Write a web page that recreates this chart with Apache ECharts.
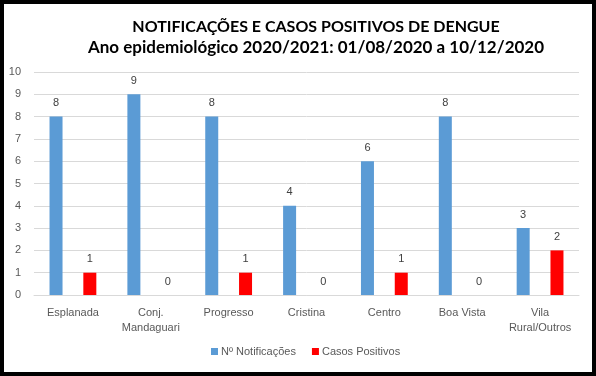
<!DOCTYPE html>
<html>
<head>
<meta charset="utf-8">
<script src="https://cdn.jsdelivr.net/npm/echarts@6/dist/echarts.min.js"></script>
<style>
  html, body { margin: 0; padding: 0; background: #fff; }
  #chart { width: 596px; height: 376px; }
  #frame { position: absolute; left: 0; top: 0; width: 596px; height: 376px; box-sizing: border-box; border: 4px solid #000; pointer-events: none; }
</style>
</head>
<body>
<div id="chart"></div>
<div id="frame"></div>
<script>
const bairros = ["Esplanada", "Conj.\nMandaguari", "Progresso", "Cristina", "Centro", "Boa Vista", "Vila\nRural/Outros"];
const notificacoes = [8, 9, 8, 4, 6, 8, 3];
const positivos = [1, 0, 1, 0, 1, 0, 2];

const chart = echarts.init(document.getElementById("chart"));
const labelStyle = { show: true, position: "top", distance: 8, color: "#404040", fontSize: 11, fontFamily: "Liberation Sans" };

chart.setOption({
  animation: false,
  textStyle: { fontFamily: "Liberation Sans" },
  title: {
    text: "{a|NOTIFICAÇÕES E CASOS POSITIVOS DE DENGUE}\n{b|Ano epidemiológico 2020/2021: 01/08/2020 a 10/12/2020}",
    left: 311,
    top: 11,
    textAlign: "center",
    textStyle: {
      align: "center",
      rich: {
        a: { fontFamily: "Lato", fontWeight: "bold", fontSize: 16, lineHeight: 21, color: "#000" },
        b: { fontFamily: "Lato", fontWeight: "bold", fontSize: 17, lineHeight: 21, color: "#000" }
      }
    }
  },
  legend: {
    bottom: 14,
    left: 206,
    itemWidth: 7,
    itemHeight: 7,
    itemGap: 16,
    icon: "rect",
    textStyle: { color: "#595959", fontSize: 11, fontFamily: "Liberation Sans", padding: [0, 0, 0, -2] },
    data: ["Nº Notificações", "Casos Positivos"]
  },
  grid: { left: 34, right: 17, top: 72, bottom: 81, containLabel: false },
  xAxis: {
    type: "category",
    data: bairros,
    axisLine: { lineStyle: { color: "#d9d9d9" } },
    axisTick: { show: false },
    axisLabel: { color: "#595959", fontSize: 11, margin: 10, lineHeight: 15, interval: 0 }
  },
  yAxis: {
    type: "value",
    min: 0,
    max: 10,
    interval: 1,
    axisLine: { show: false },
    axisTick: { show: false },
    splitLine: { lineStyle: { color: "#d9d9d9" } },
    axisLabel: { color: "#595959", fontSize: 11, margin: 13 }
  },
  series: [
    {
      name: "Nº Notificações",
      type: "bar",
      data: notificacoes,
      barWidth: 13,
      barGap: "160%",
      itemStyle: { color: "#5b9bd5" },
      label: labelStyle
    },
    {
      name: "Casos Positivos",
      type: "bar",
      data: positivos,
      barWidth: 13,
      itemStyle: { color: "#ff0000" },
      label: labelStyle
    }
  ]
});
</script>
</body>
</html>
